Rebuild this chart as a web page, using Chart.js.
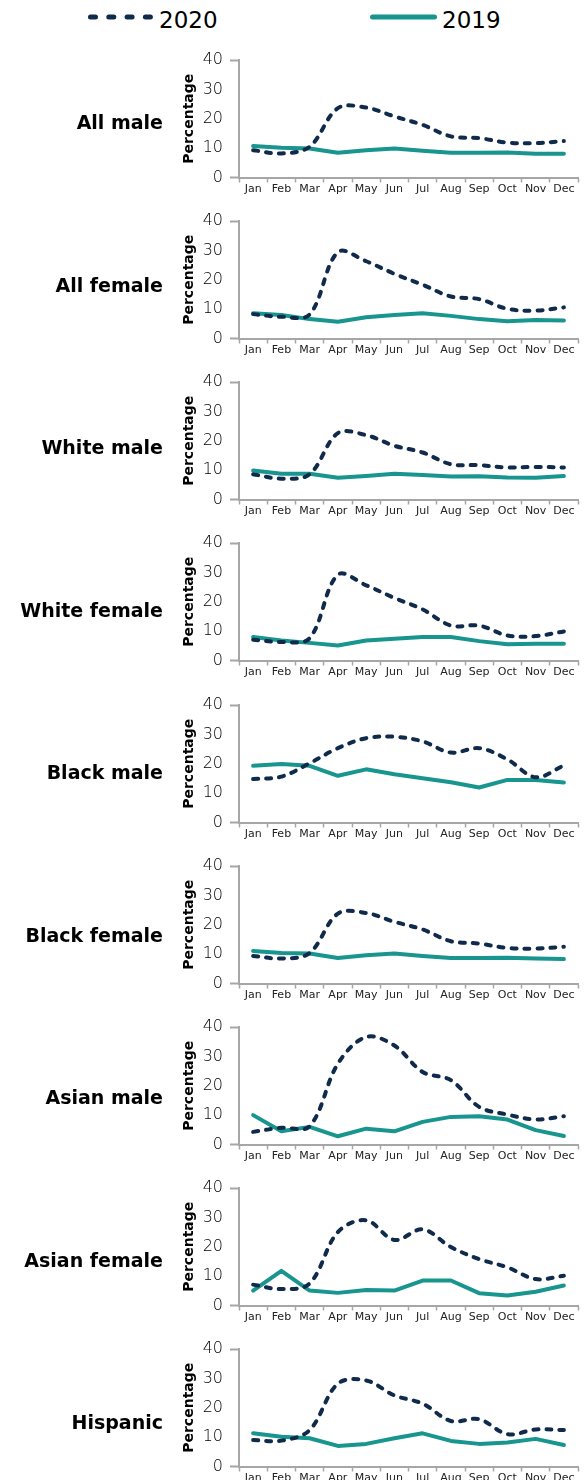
<!DOCTYPE html>
<html>
<head>
<meta charset="utf-8">
<script src="https://cdn.jsdelivr.net/npm/chart.js@4.4.1/dist/chart.umd.min.js"></script>
<style>
  body { margin: 0; background: #fff; overflow: hidden; font-family: "DejaVu Sans", sans-serif; }
  #page { position: relative; width: 586px; height: 1480px; overflow: hidden; }
  .panel { position: absolute; left: 0; width: 586px; height: 161px; }
  .rowlabel { position: absolute; right: 423px; font-weight: bold; font-size: 19px; line-height: 24px; color: #000; white-space: nowrap; }
  .legtext { position: absolute; top: 6px; font-size: 23px; line-height: 28px; color: #000; }
  #legsvg { position: absolute; left: 0; top: 0; }
</style>
</head>
<body>
<div id="page">
  <svg id="legsvg" width="586" height="40">
    <line x1="90.5" y1="17" x2="150.5" y2="17" stroke="#0f2a4a" stroke-width="5" stroke-linecap="round" stroke-dasharray="5 13.3"/>
    <line x1="372.5" y1="17" x2="434.5" y2="17" stroke="#17958e" stroke-width="5" stroke-linecap="round"/>
  </svg>
  <div class="legtext" style="left:159px">2020</div>
  <div class="legtext" style="left:442px">2019</div>
</div>
<script>
const months = ['Jan', 'Feb', 'Mar', 'Apr', 'May', 'Jun', 'Jul', 'Aug', 'Sep', 'Oct', 'Nov', 'Dec'];
const groups = ['All male', 'All female', 'White male', 'White female', 'Black male',
  'Black female', 'Asian male', 'Asian female', 'Hispanic'];
const yTicks = [0, 10, 20, 30, 40];

// 2020 series
const allMale2020     = [9.3, 8.2, 10.5, 23.6, 23.8, 20.8, 17.9, 14.0, 13.4, 11.9, 11.7, 12.4];
const allFemale2020   = [8.3, 7.4, 8.2, 29.4, 26.3, 22.0, 18.3, 14.3, 13.4, 10.1, 9.5, 10.6];
const whiteMale2020   = [8.6, 7.1, 8.6, 22.6, 21.9, 18.3, 16.0, 12.0, 11.7, 10.9, 11.1, 10.9];
const whiteFemale2020 = [7.1, 6.3, 7.6, 29.2, 25.6, 21.3, 17.4, 11.9, 11.9, 8.5, 8.3, 9.9];
const blackMale2020   = [14.8, 15.6, 20.2, 25.3, 28.7, 29.2, 27.6, 23.8, 25.3, 21.5, 15.4, 19.4];
const blackFemale2020 = [9.4, 8.5, 10.4, 23.8, 24.0, 21.0, 18.4, 14.4, 13.6, 12.1, 11.9, 12.5];
const asianMale2020   = [4.3, 5.7, 6.2, 27.5, 36.6, 33.7, 24.7, 21.9, 12.8, 10.2, 8.5, 9.6];
const asianFemale2020 = [7.1, 5.6, 7.5, 25.0, 29.0, 22.3, 25.9, 19.9, 15.8, 13.0, 9.0, 10.1];
const hispanic2020    = [9.0, 8.8, 12.4, 28.2, 29.3, 24.2, 21.4, 15.5, 16.1, 11.0, 12.6, 12.4];

// 2019 series
const allMale2019     = [10.7, 10.1, 9.9, 8.4, 9.3, 9.9, 9.1, 8.4, 8.4, 8.5, 8.1, 8.1];
const allFemale2019   = [8.6, 8.0, 6.6, 5.7, 7.2, 8.0, 8.6, 7.7, 6.6, 5.9, 6.3, 6.1];
const whiteMale2019   = [9.9, 8.8, 8.8, 7.4, 8.0, 8.8, 8.3, 7.8, 7.9, 7.5, 7.4, 8.0];
const whiteFemale2019 = [8.0, 6.8, 6.0, 5.1, 6.8, 7.4, 8.0, 8.0, 6.6, 5.5, 5.7, 5.7];
const blackMale2019   = [19.3, 19.9, 19.3, 15.9, 18.1, 16.4, 15.1, 13.7, 11.9, 14.5, 14.5, 13.6];
const blackFemale2019 = [11.1, 10.4, 10.2, 8.7, 9.6, 10.2, 9.4, 8.7, 8.7, 8.8, 8.5, 8.3];
const asianMale2019   = [10.0, 4.5, 6.0, 2.8, 5.4, 4.5, 7.7, 9.4, 9.6, 8.5, 4.9, 2.9];
const asianFemale2019 = [5.1, 11.8, 5.1, 4.3, 5.3, 5.1, 8.5, 8.5, 4.2, 3.4, 4.7, 6.8];
const hispanic2019    = [11.3, 10.1, 9.6, 7.0, 7.7, 9.6, 11.3, 8.7, 7.7, 8.2, 9.4, 7.3];

const series2020 = [allMale2020, allFemale2020, whiteMale2020, whiteFemale2020, blackMale2020,
  blackFemale2020, asianMale2020, asianFemale2020, hispanic2020];
const series2019 = [allMale2019, allFemale2019, whiteMale2019, whiteFemale2019, blackMale2019,
  blackFemale2019, asianMale2019, asianFemale2019, hispanic2019];

const navy = '#0f2a4a';
const teal = '#17958e';
const axisGrey = '#a6a6a6';

const page = document.getElementById('page');

groups.forEach((name, i) => {
  const holder = document.createElement('div');
  holder.className = 'panel';
  holder.style.top = Math.round(39.8 + 161.2 * i) + 'px';
  const canvas = document.createElement('canvas');
  canvas.width = 586;
  canvas.height = 161;
  holder.appendChild(canvas);
  page.appendChild(holder);

  const label = document.createElement('div');
  label.className = 'rowlabel';
  label.textContent = name;
  label.style.top = Math.round(122 + 162.5 * i - 12) + 'px';
  page.appendChild(label);

  new Chart(canvas, {
    type: 'line',
    data: {
      labels: months,
      datasets: [{
        label: '2020',
        data: series2020[i],
        borderColor: navy,
        borderWidth: 4,
        borderDash: [5, 8],
        borderCapStyle: 'round',
        tension: 0.35,
        pointRadius: 0
      }, {
        label: '2019',
        data: series2019[i],
        borderColor: teal,
        borderWidth: 4,
        borderJoinStyle: 'round',
        borderCapStyle: 'round',
        tension: 0,
        pointRadius: 0
      }]
    },
    options: {
      responsive: false,
      animation: false,
      layout: { padding: { left: 170, right: 8, top: 20, bottom: 0 } },
      plugins: { legend: { display: false }, tooltip: { enabled: false } },
      scales: {
        x: {
          offset: true,
          grid: { offset: true, drawOnChartArea: false, tickLength: 5, tickColor: axisGrey, tickWidth: 1.5 },
          border: { color: axisGrey, width: 2 },
          ticks: { autoSkip: false, maxRotation: 0, padding: 0, color: '#222', font: { family: 'DejaVu Sans', size: 11 } },
          afterFit: (scale) => { scale.height = 23.5; }
        },
        y: {
          min: 0,
          max: 40,
          afterBuildTicks: (scale) => { scale.ticks = yTicks.map(v => ({ value: v })); },
          grid: {
            drawOnChartArea: false,
            tickLength: 9,
            tickWidth: 2,
            tickColor: (c) => (c.tick && (c.tick.value === 40 || c.tick.value === 0)) ? axisGrey : 'rgba(0,0,0,0)'
          },
          border: { color: axisGrey, width: 2 },
          ticks: { padding: 7, color: '#000', font: { family: 'DejaVu Sans', size: 16, weight: 300 } },
          title: {
            display: true,
            text: 'Percentage',
            color: '#000',
            padding: { top: 11, bottom: 0 },
            font: { family: 'DejaVu Sans', size: 14, weight: 'bold' }
          },
          afterFit: (scale) => { scale.width = 69; }
        }
      }
    }
  });
});
</script>
</body>
</html>
